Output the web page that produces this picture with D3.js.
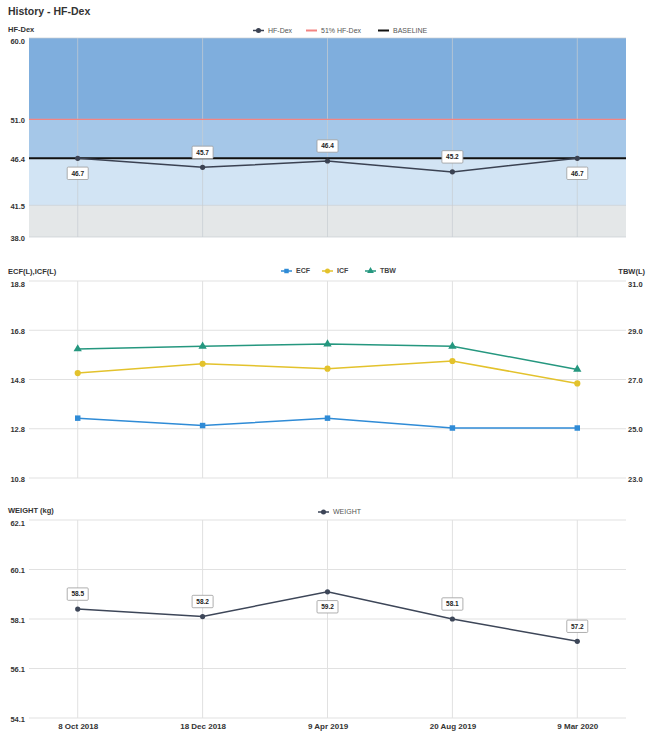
<!DOCTYPE html>
<html><head><meta charset="utf-8">
<script src="https://cdn.jsdelivr.net/npm/d3@7"></script>
<style>body{margin:0;background:#fff;font-family:"Liberation Sans",Arial,Helvetica,sans-serif}</style>
</head><body><svg id="c" width="659" height="733"></svg>
<script>
const dates = ["8 Oct 2018","18 Dec 2018","9 Apr 2019","20 Aug 2019","9 Mar 2020"];
const hfdex = [46.7,45.7,46.4,45.2,46.7];
const hfdexLabelSide = ["below","above","above","above","below"];
const hfdexBaseline = 46.7;
const hfdex51 = 51.0;
const hfdexTicks = [38.0,41.5,46.7,51.0,60.0];
const hfdexTickLabels = ["38.0","41.5","46.4","51.0","60.0"];
const hfdexBandEdges = [38.0,41.5,46.7,51.0,60.0];
const ecf = [13.23,12.93,13.23,12.83,12.83];
const icf = [15.06,15.44,15.24,15.55,14.64];
const tbw = [28.24,28.35,28.44,28.35,27.41];
const leftTicks = [10.8,12.8,14.8,16.8,18.8];
const rightTicks = [23.0,25.0,27.0,29.0,31.0];
const weight = [58.5,58.2,59.2,58.1,57.2];
const weightLabelSide = ["above","above","below","above","above"];
const weightTicks = [54.1,56.1,58.1,60.1,62.1];

const svg = d3.select("#c");
const L = 29, R = 626;
const x = d3.scalePoint().domain(dates).range([L, R]).padding(0.39);
const tickFont = "bold 7.5px 'Liberation Sans', Arial, sans-serif";

svg.append("text").attr("x", 8).attr("y", 15).attr("font-size", 10.5).attr("font-weight", "bold")
  .attr("fill", "#333").text("History - HF-Dex");

function grid(g, y, ticks, top, bottom, color, op) {
  g.selectAll(".hg").data(ticks).join("line").attr("class","hg")
    .attr("x1", L).attr("x2", R).attr("y1", d => y(d)).attr("y2", d => y(d))
    .attr("stroke", color).attr("stroke-opacity", op).attr("stroke-width", 1);
  g.selectAll(".vg").data(dates).join("line").attr("class","vg")
    .attr("x1", d => x(d)).attr("x2", d => x(d)).attr("y1", top).attr("y2", bottom)
    .attr("stroke", color).attr("stroke-opacity", op).attr("stroke-width", 1);
}
function leftAxis(y, ticks, labels, top) {
  const ax = d3.axisLeft(y).tickValues(ticks).tickSize(0).tickPadding(0)
    .tickFormat((d,i) => labels ? labels[i] : d3.format(".1f")(d));
  const g = svg.append("g").attr("transform", `translate(25,0)`).call(ax);
  g.select(".domain").remove();
  g.selectAll("text").style("font", tickFont).attr("fill", "#333")
    .attr("dy", function(d){ return (y(d) - top < 4) ? "0.75em" : "0.4em"; });
  return g;
}
function axisTitle(txt, yy, anchor, xx) {
  svg.append("text").attr("x", xx).attr("y", yy).attr("text-anchor", anchor || "start")
    .attr("font-size", 7.5).attr("font-weight", "bold").attr("fill", "#333").text(txt);
}
function dataLabels(g, vals, y, sides) {
  const lg = g.selectAll(".lbl").data(vals).join("g").attr("class","lbl")
    .attr("transform", (d,i) => `translate(${x(dates[i])},${y(d) + (sides[i]==="above" ? -15 : 15)})`);
  lg.append("rect").attr("x", -10.5).attr("y", -6.2).attr("width", 21).attr("height", 12.4)
    .attr("fill", "#fff").attr("stroke", "#9a9a9a").attr("stroke-width", 0.8).attr("rx", 1);
  lg.append("text").attr("text-anchor", "middle").attr("dy", "0.35em")
    .attr("font-size", 6.5).attr("font-weight", "bold").attr("fill", "#222").text(d => d3.format(".1f")(d));
}
function legendItem(g, lx, ly, color, shape, label, bold, textColor) {
  const it = g.append("g").attr("transform", `translate(${lx},${ly})`);
  if (shape === "line") {
    it.append("line").attr("x1", 0).attr("x2", 11).attr("stroke", color).attr("stroke-width", 2);
  } else {
    it.append("line").attr("x1", 0).attr("x2", 11).attr("stroke", color).attr("stroke-width", 1.5);
    const sym = shape === "circle" ? d3.symbolCircle : shape === "square" ? d3.symbolSquare : d3.symbolTriangle;
    it.append("path").attr("transform", "translate(5.5,0)").attr("d", d3.symbol(sym, 20)()).attr("fill", color);
  }
  it.append("text").attr("x", 15).attr("dy", "0.35em").attr("font-size", 7)
    .attr("font-weight", bold ? "bold" : "normal").attr("fill", textColor || "#555").text(label);
}

// ---------- Panel 1: HF-Dex ----------
const p1Top = 38, p1Bot = 237;
const y1 = d3.scaleLinear().domain([38, 60]).range([p1Bot, p1Top]);
const g1 = svg.append("g");
const bandColors = ["#e4e7e8", "#d2e4f4", "#a5c7e8", "#7faedd"];
g1.selectAll(".band").data(d3.range(hfdexBandEdges.length - 1)).join("rect")
  .attr("x", L).attr("width", R - L)
  .attr("y", i => y1(hfdexBandEdges[i+1])).attr("height", i => y1(hfdexBandEdges[i]) - y1(hfdexBandEdges[i+1]))
  .attr("fill", i => bandColors[i]);
grid(g1, y1, hfdexTicks, p1Top, p1Bot, "#c8cdd2", 0.7);
g1.append("line").attr("x1", L).attr("x2", R).attr("y1", y1(hfdex51)).attr("y2", y1(hfdex51))
  .attr("stroke", "#f28482").attr("stroke-width", 1.2);
g1.append("line").attr("x1", L).attr("x2", R).attr("y1", y1(hfdexBaseline)).attr("y2", y1(hfdexBaseline))
  .attr("stroke", "#111").attr("stroke-width", 2);
g1.append("path").datum(hfdex).attr("fill", "none").attr("stroke", "#3b4252").attr("stroke-width", 1.5)
  .attr("d", d3.line().x((d,i) => x(dates[i])).y(d => y1(d)));
g1.selectAll(".pt").data(hfdex).join("circle").attr("class","pt")
  .attr("cx", (d,i) => x(dates[i])).attr("cy", d => y1(d)).attr("r", 2.6).attr("fill", "#3b4252");
dataLabels(g1, hfdex, y1, hfdexLabelSide);
leftAxis(y1, hfdexTicks, hfdexTickLabels, p1Top);
axisTitle("HF-Dex", 32, "start", 8);
const lg1 = svg.append("g");
legendItem(lg1, 253, 30.5, "#3b4252", "circle", "HF-Dex", false);
legendItem(lg1, 306, 30.5, "#f28482", "line", "51% HF-Dex", false);
legendItem(lg1, 378, 30.5, "#111", "line", "BASELINE", false);

// ---------- Panel 2: ECF / ICF / TBW ----------
const p2Top = 281, p2Bot = 478;
const y2 = d3.scaleLinear().domain([10.8, 18.8]).range([p2Bot, p2Top]);
const y2r = d3.scaleLinear().domain([23.0, 31.0]).range([p2Bot, p2Top]);
const g2 = svg.append("g");
grid(g2, y2, leftTicks, p2Top, p2Bot, "#e1e1e1", 1);
const series = [
  {vals: ecf, y: y2, color: "#2f8bd6", sym: d3.symbolSquare},
  {vals: icf, y: y2, color: "#e3c22c", sym: d3.symbolCircle},
  {vals: tbw, y: y2r, color: "#25977f", sym: d3.symbolTriangle}
];
series.forEach(s => {
  g2.append("path").datum(s.vals).attr("fill", "none").attr("stroke", s.color).attr("stroke-width", 1.5)
    .attr("d", d3.line().x((d,i) => x(dates[i])).y(d => s.y(d)));
  g2.selectAll(null).data(s.vals).join("path")
    .attr("transform", (d,i) => `translate(${x(dates[i])},${s.y(d)})`)
    .attr("d", d3.symbol(s.sym, 30)()).attr("fill", s.color);
});
leftAxis(y2, leftTicks, null, p2Top);
const ra = d3.axisRight(y2r).tickValues(rightTicks).tickSize(0).tickPadding(0).tickFormat(d3.format(".1f"));
const rg = svg.append("g").attr("transform", "translate(628,0)").call(ra);
rg.select(".domain").remove();
rg.selectAll("text").style("font", tickFont).attr("fill", "#333")
  .attr("dy", d => (y2r(d) - p2Top < 4) ? "0.75em" : "0.4em");
axisTitle("ECF(L),ICF(L)", 274, "start", 8);
axisTitle("TBW(L)", 274, "end", 645);
const lg2 = svg.append("g");
legendItem(lg2, 281, 271, "#2f8bd6", "square", "ECF", true, "#444");
legendItem(lg2, 322, 271, "#e3c22c", "circle", "ICF", true, "#444");
legendItem(lg2, 365, 271, "#25977f", "triangle", "TBW", true, "#444");

// ---------- Panel 3: Weight ----------
const p3Top = 520, p3Bot = 718;
const y3 = d3.scaleLinear().domain([54.1, 62.1]).range([p3Bot, p3Top]);
const g3 = svg.append("g");
grid(g3, y3, weightTicks, p3Top, p3Bot, "#e1e1e1", 1);
g3.append("path").datum(weight).attr("fill", "none").attr("stroke", "#3d4658").attr("stroke-width", 1.5)
  .attr("d", d3.line().x((d,i) => x(dates[i])).y(d => y3(d)));
g3.selectAll(".pt").data(weight).join("circle").attr("class","pt")
  .attr("cx", (d,i) => x(dates[i])).attr("cy", d => y3(d)).attr("r", 2.6).attr("fill", "#3d4658");
dataLabels(g3, weight, y3, weightLabelSide);
leftAxis(y3, weightTicks, null, p3Top);
axisTitle("WEIGHT (kg)", 513, "start", 8);
const lg3 = svg.append("g");
legendItem(lg3, 318, 512, "#3d4658", "circle", "WEIGHT", false);

// x axis
const xa = d3.axisBottom(x).tickSize(0).tickPadding(0);
const xg = svg.append("g").attr("transform", `translate(0,${p3Bot + 5})`).call(xa);
xg.select(".domain").remove();
xg.selectAll("text").style("font", "bold 8px 'Liberation Sans', Arial, sans-serif").attr("fill", "#333");
</script></body></html>
